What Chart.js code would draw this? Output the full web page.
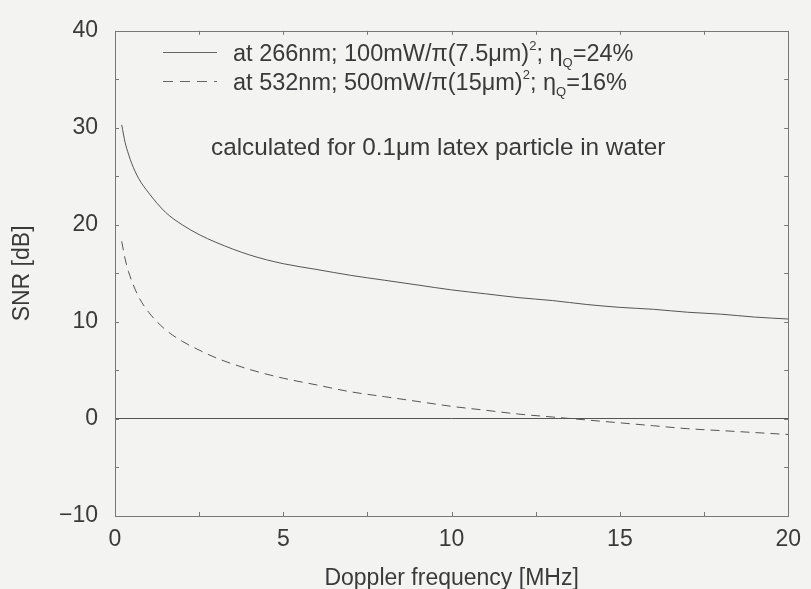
<!DOCTYPE html>
<html>
<head>
<meta charset="utf-8">
<script src="https://cdn.jsdelivr.net/npm/chart.js@4/dist/chart.umd.min.js"></script>
<style>
  html, body { margin:0; padding:0; background:#f3f3f1; }
  #wrap { position:relative; width:811px; height:589px; }
  canvas { position:absolute; left:0; top:0; }
  .lg { position:absolute; font-family:"Liberation Sans", Arial, sans-serif; font-size:23.5px; color:#3a3a3a; white-space:nowrap; line-height:26px; }
  .lg sup { font-size:13px; vertical-align:0; position:relative; top:-11px; }
  .lg sub { font-size:13px; vertical-align:0; position:relative; top:6px; }
  .sample { position:absolute; width:54px; height:1px; background:#666; }
  .sample.d { background:repeating-linear-gradient(to right, #666 0 10px, transparent 10px 17px); }
</style>
</head>
<body>
<div id="wrap">
  <canvas id="c" width="811" height="589"></canvas>
  <div class="sample" style="left:163px; top:52px;"></div>
  <div class="lg" style="left:233px; top:40px;">at 266nm; 100mW/π(7.5μm)<sup>2</sup>; η<sub>Q</sub>=24%</div>
  <div class="sample d" style="left:163px; top:81px;"></div>
  <div class="lg" style="left:233px; top:69px;">at 532nm; 500mW/π(15μm)<sup>2</sup>; η<sub>Q</sub>=16%</div>
  <div class="lg" style="left:211px; top:134px; font-size:24.3px;">calculated for 0.1μm latex particle in water</div>
</div>
<script>
// Doppler frequency [MHz]
const freq   = [0.2, 0.3, 0.4, 0.5, 0.7, 1, 1.5, 2, 2.5, 3, 4, 5, 6, 7, 8, 9, 10, 11, 12, 13, 14, 15, 16, 17, 18, 19, 20];
// SNR [dB] at 266 nm (solid)
const snr266 = [30.3, 28.5, 27.3, 26.3, 24.8, 23.3, 21.3, 20.0, 19.0, 18.2, 16.9, 16.0, 15.4, 14.8, 14.3, 13.8, 13.3, 12.9, 12.5, 12.2, 11.8, 11.5, 11.3, 11.0, 10.8, 10.5, 10.3];
// SNR [dB] at 532 nm (dashed)
const snr532 = [18.3, 16.5, 15.2, 14.2, 12.6, 11.0, 9.2, 8.0, 7.1, 6.3, 5.1, 4.2, 3.5, 2.8, 2.3, 1.8, 1.3, 0.9, 0.5, 0.2, -0.1, -0.4, -0.7, -1.0, -1.2, -1.4, -1.6];
const xTicks = [0, 5, 10, 15, 20];
const yTicks = [-10, 0, 10, 20, 30, 40];

const FONT = '"Liberation Sans", Arial, sans-serif';
const INK = '#3a3a3a';

const frame = {
  id: 'frame',
  afterDraw(chart) {
    const {ctx, chartArea: a, scales: {x, y}} = chart;
    ctx.save();
    ctx.strokeStyle = '#777';
    ctx.lineWidth = 1;
    ctx.strokeRect(Math.round(a.left) + 0.5, Math.round(a.top) + 0.5, Math.round(a.right - a.left), Math.round(a.bottom - a.top));
    ctx.beginPath();
    const L = 4;
    for (let v = 0; v <= 20; v += 2.5) {
      const px = Math.round(x.getPixelForValue(v)) + 0.5;
      ctx.moveTo(px, a.bottom); ctx.lineTo(px, a.bottom - L);
      ctx.moveTo(px, a.top); ctx.lineTo(px, a.top + L);
    }
    for (let v = -10; v <= 40; v += 5) {
      const py = Math.round(y.getPixelForValue(v)) + 0.5;
      ctx.moveTo(a.left, py); ctx.lineTo(a.left + L, py);
      ctx.moveTo(a.right, py); ctx.lineTo(a.right - L, py);
    }
    ctx.stroke();
    ctx.restore();
  }
};

new Chart(document.getElementById('c'), {
  type: 'line',
  data: {
    datasets: [
      { label: 'at 266nm', data: freq.map((f, i) => ({x: f, y: snr266[i]})), borderColor: '#555', borderWidth: 1, pointRadius: 0, cubicInterpolationMode: 'monotone' },
      { label: 'at 532nm', data: freq.map((f, i) => ({x: f, y: snr532[i]})), borderColor: '#555', borderWidth: 1, borderDash: [9, 6], pointRadius: 0, cubicInterpolationMode: 'monotone' }
    ]
  },
  options: {
    responsive: false,
    animation: false,
    events: [],
    layout: { padding: { top: 16, right: 17, left: 0, bottom: 0 } },
    plugins: { legend: { display: false }, tooltip: { enabled: false } },
    scales: {
      x: {
        type: 'linear', min: 0, max: 20,
        afterBuildTicks: s => { s.ticks = xTicks.map(v => ({value: v})); },
        afterFit: s => { s.height = 73; },
        grid: { display: false, drawTicks: false },
        border: { display: false },
        ticks: { color: INK, font: { family: FONT, size: 23 }, padding: 10, maxRotation: 0 },
        title: { display: true, text: 'Doppler frequency [MHz]', color: INK, font: { family: FONT, size: 23 }, padding: { top: 9, bottom: -3 } }
      },
      y: {
        min: -10, max: 40,
        afterBuildTicks: s => { s.ticks = yTicks.map(v => ({value: v})); },
        afterFit: s => { s.width = 115; },
        grid: { drawTicks: false, color: c => (c.tick && c.tick.value === 0) ? '#555' : 'rgba(0,0,0,0)', lineWidth: 1 },
        border: { display: false },
        ticks: { color: INK, font: { family: FONT, size: 23 }, padding: 17, callback: v => String(v).replace('-', '\u2212') },
        title: { display: true, text: 'SNR [dB]', color: INK, font: { family: FONT, size: 23 }, padding: { top: 9, bottom: 0 } }
      }
    }
  },
  plugins: [frame]
});
</script>
</body>
</html>
